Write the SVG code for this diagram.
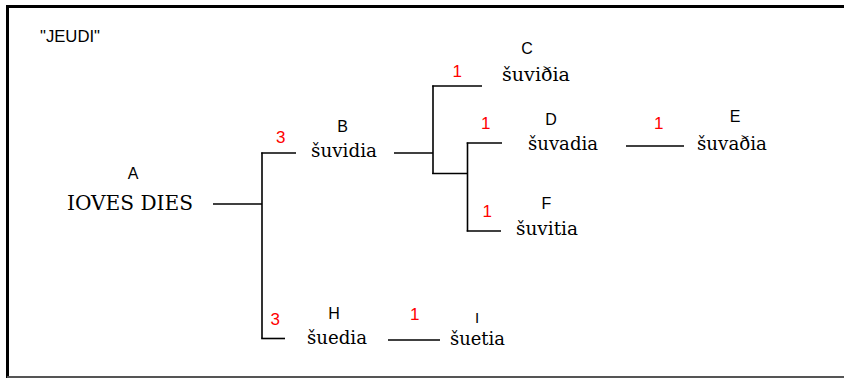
<svg xmlns="http://www.w3.org/2000/svg" width="844" height="378" viewBox="0 0 844 378">
<style>
.lbl{font-family:"Liberation Sans",Arial,sans-serif;font-size:16px;fill:#000}
.w{font-family:"DejaVu Serif","Liberation Serif",serif;font-size:18px;fill:#000}
.n{font-family:"Liberation Sans",Arial,sans-serif;font-size:17px;fill:#ff0000}
.c line{stroke:#000;stroke-width:1.6;fill:none}
</style>
<rect x="0" y="0" width="844" height="378" fill="#fff"/>
<g id="frame">
<line x1="7.5" y1="6.5" x2="844" y2="6.5" stroke="#000" stroke-width="3"/>
<line x1="7.5" y1="5" x2="7.5" y2="378" stroke="#000" stroke-width="3"/>
<line x1="7" y1="377" x2="844" y2="377" stroke="#555" stroke-width="2"/>
</g>
<text class="lbl" x="40" y="42" textLength="60" lengthAdjust="spacingAndGlyphs">"JEUDI"</text>
<g class="c" id="connectors">
<line x1="213" y1="204" x2="262" y2="204"/>
<line x1="262" y1="152.5" x2="262" y2="338.5"/>
<line x1="261.2" y1="153" x2="296" y2="153"/>
<line x1="261.2" y1="338.5" x2="285" y2="338.5"/>
<line x1="394" y1="153" x2="433" y2="153"/>
<line x1="433" y1="85.5" x2="433" y2="174"/>
<line x1="432.2" y1="86" x2="482" y2="86"/>
<line x1="432.2" y1="173.5" x2="467.5" y2="173.5"/>
<line x1="467.5" y1="142.5" x2="467.5" y2="231.5"/>
<line x1="466.7" y1="143" x2="502" y2="143"/>
<line x1="466.7" y1="231" x2="501" y2="231"/>
<line x1="626" y1="146" x2="684" y2="146"/>
<line x1="388" y1="340" x2="440" y2="340"/>
</g>
<g id="A">
<text class="lbl" x="133" y="179" text-anchor="middle">A</text>
<text class="w" x="67" y="210" style="font-size:20px" textLength="126" lengthAdjust="spacingAndGlyphs">IOVES DIES</text>
</g>
<g id="B">
<text class="n" x="276" y="143">3</text>
<text class="lbl" x="342.5" y="132" text-anchor="middle">B</text>
<text class="w" x="311" y="157" textLength="66" lengthAdjust="spacingAndGlyphs">šuvidia</text>
</g>
<g id="C">
<text class="n" x="452.5" y="77">1</text>
<text class="lbl" x="527" y="53.5" text-anchor="middle">C</text>
<text class="w" x="502" y="81" textLength="68" lengthAdjust="spacingAndGlyphs">šuviðia</text>
</g>
<g id="D">
<text class="n" x="481" y="129">1</text>
<text class="lbl" x="551" y="124.5" text-anchor="middle">D</text>
<text class="w" x="528" y="150" textLength="70" lengthAdjust="spacingAndGlyphs">šuvadia</text>
</g>
<g id="E">
<text class="n" x="654" y="129">1</text>
<text class="lbl" x="735" y="122" text-anchor="middle">E</text>
<text class="w" x="697" y="150" textLength="70" lengthAdjust="spacingAndGlyphs">šuvaðia</text>
</g>
<g id="F">
<text class="n" x="482.5" y="217">1</text>
<text class="lbl" x="546.5" y="208.5" text-anchor="middle">F</text>
<text class="w" x="516" y="235" textLength="62" lengthAdjust="spacingAndGlyphs">šuvitia</text>
</g>
<g id="H">
<text class="n" x="270.5" y="325">3</text>
<text class="lbl" x="334" y="318.5" text-anchor="middle">H</text>
<text class="w" x="307" y="344" textLength="60" lengthAdjust="spacingAndGlyphs">šuedia</text>
</g>
<g id="I">
<text class="n" x="410" y="320">1</text>
<text class="lbl" x="477" y="323" text-anchor="middle" style="font-size:15px">I</text>
<text class="w" x="450" y="345" textLength="55" lengthAdjust="spacingAndGlyphs">šuetia</text>
</g>
</svg>
